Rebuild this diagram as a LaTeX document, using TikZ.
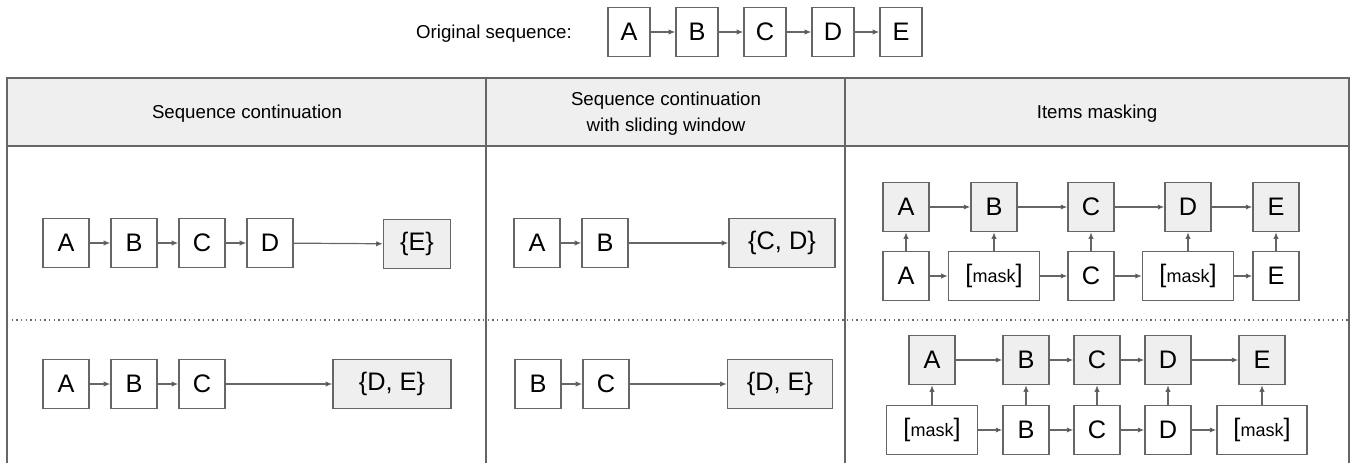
\documentclass[tikz,border=0pt]{standalone}
\usepackage{fontspec}
\setmainfont{Liberation Sans}
\usetikzlibrary{arrows.meta, positioning}

\definecolor{linegray}{HTML}{666666}
\definecolor{boxgray}{HTML}{EFEFEF}
\newcommand{\masktxt}{[{\fontsize{13.5}{16}\selectfont mask}]}

\begin{document}
\begin{tikzpicture}[x=0.75pt, y=-0.75pt, >={Latex[length=5pt, width=4pt]},
    item/.style={draw=linegray, line width=0.9pt, minimum width=34.5pt,
        minimum height=36.75pt, inner sep=0pt, font=\fontsize{19}{22}\selectfont},
    target/.style={item, fill=boxgray},
    wide/.style={minimum width=#1*0.75pt},
    head/.style={align=center, font=\fontsize{14}{19.5}\selectfont},
    rule/.style={draw=linegray, line width=1.1pt}]

        \useasboundingbox (0,0) rectangle (1351,463);

        % table
        \fill[boxgray] (7,78) rectangle (1349,146);
        \draw[rule] (7,463) -- (7,78) -- (1349,78) -- (1349,463);
        \draw[rule] (7,146) -- (1349,146);
        \draw[rule] (486,78) -- (486,463);
        \draw[rule] (845,78) -- (845,463);
        \draw[linegray, line width=0.8pt, dash pattern=on 0.9pt off 2.6pt] (7,320) -- (1349,320);

        \node[head] (HCONT) at (247,114) {Sequence continuation};
        \node[head] (HWIN) at (666,114) {Sequence continuation\\with sliding window};
        \node[head] (HMASK) at (1097,114) {Items masking};

        % original sequence
        \node[head] (ORIG) at (494,34) {Original sequence:};
        \node[item, wide=42] (seqA) at (629,32) {A};
        \node[item, wide=42] (seqB) at (697,32) {B};
        \node[item, wide=42] (seqC) at (765,32) {C};
        \node[item, wide=42] (seqD) at (833,32) {D};
        \node[item, wide=42] (seqE) at (901,32) {E};

        \path[->, draw=linegray, line width=0.9pt]
            (seqA) edge (seqB)
            (seqB) edge (seqC)
            (seqC) edge (seqD)
            (seqD) edge (seqE);

        % sequence continuation
        \node[item] (contA1) at (66,243) {A};
        \node[item] (contB1) at (134,243) {B};
        \node[item] (contC1) at (202,243) {C};
        \node[item] (contD1) at (270,243) {D};
        \node[target, wide=67] (contT1) at (417,244) {\{E\}};

        \node[item] (contA2) at (66,384) {A};
        \node[item] (contB2) at (134,384) {B};
        \node[item] (contC2) at (202,384) {C};
        \node[target, wide=118] (contT2) at (392,384) {\{D, E\}};

        \path[->, draw=linegray, line width=0.9pt]
            (contA1) edge (contB1)
            (contB1) edge (contC1)
            (contC1) edge (contD1)
            (contD1) edge (contT1)
            (contA2) edge (contB2)
            (contB2) edge (contC2)
            (contC2) edge (contT2);

        % sliding window
        \node[item] (winA1) at (537,243) {A};
        \node[item] (winB1) at (605,243) {B};
        \node[target, wide=106] (winT1) at (782,243) {\{C, D\}};

        \node[item] (winB2) at (538,384) {B};
        \node[item] (winC2) at (606,384) {C};
        \node[target, wide=105] (winT2) at (780,384) {\{D, E\}};

        \path[->, draw=linegray, line width=0.9pt]
            (winA1) edge (winB1)
            (winB1) edge (winT1)
            (winB2) edge (winC2)
            (winC2) edge (winT2);

        % items masking
        \node[target] (maskA1) at (906,207) {A};
        \node[target] (maskB1) at (994,207) {B};
        \node[target] (maskC1) at (1091,207) {C};
        \node[target] (maskD1) at (1188,207) {D};
        \node[target] (maskE1) at (1276,207) {E};
        \node[item] (inA1) at (906,276) {A};
        \node[item, wide=91] (inB1) at (994,276) {\masktxt};
        \node[item] (inC1) at (1091,276) {C};
        \node[item, wide=91] (inD1) at (1188,276) {\masktxt};
        \node[item] (inE1) at (1276,276) {E};

        \node[target] (maskA2) at (932,360) {A};
        \node[target] (maskB2) at (1026,360) {B};
        \node[target] (maskC2) at (1097,360) {C};
        \node[target] (maskD2) at (1168,360) {D};
        \node[target] (maskE2) at (1262,360) {E};
        \node[item, wide=91] (inA2) at (932,430) {\masktxt};
        \node[item] (inB2) at (1026,430) {B};
        \node[item] (inC2) at (1097,430) {C};
        \node[item] (inD2) at (1168,430) {D};
        \node[item, wide=90] (inE2) at (1262,430) {\masktxt};

        \path[->, draw=linegray, line width=0.9pt]
            (maskA1) edge (maskB1)
            (maskB1) edge (maskC1)
            (maskC1) edge (maskD1)
            (maskD1) edge (maskE1)
            (inA1) edge (inB1)
            (inB1) edge (inC1)
            (inC1) edge (inD1)
            (inD1) edge (inE1)
            (inA1) edge (maskA1)
            (inB1) edge (maskB1)
            (inC1) edge (maskC1)
            (inD1) edge (maskD1)
            (inE1) edge (maskE1)
            (maskA2) edge (maskB2)
            (maskB2) edge (maskC2)
            (maskC2) edge (maskD2)
            (maskD2) edge (maskE2)
            (inA2) edge (inB2)
            (inB2) edge (inC2)
            (inC2) edge (inD2)
            (inD2) edge (inE2)
            (inA2) edge (maskA2)
            (inB2) edge (maskB2)
            (inC2) edge (maskC2)
            (inD2) edge (maskD2)
            (inE2) edge (maskE2);

\end{tikzpicture}
\end{document}
